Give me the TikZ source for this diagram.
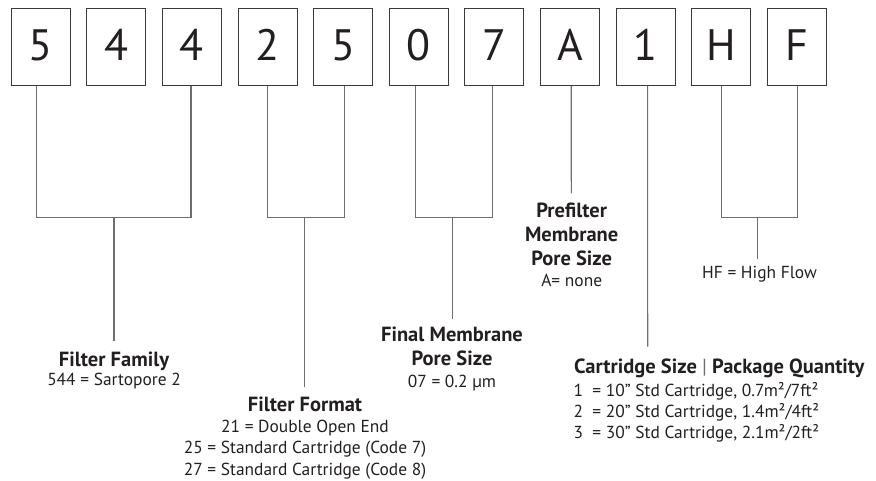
\documentclass[tikz,border=0pt]{standalone}
\usepackage{fontspec}
\setmainfont{PT Sans}
\usetikzlibrary{calc}
\definecolor{ink}{HTML}{231F20}
\definecolor{conncol}{HTML}{6D6E70}
\definecolor{boxcol}{HTML}{3A3A3A}
\begin{document}
\begin{tikzpicture}[x=1pt,y=-1pt,
  digit/.style={draw=boxcol, line width=0.9pt, minimum width=59pt, minimum height=77pt, inner sep=0pt, text depth=4pt, font=\fontsize{44}{44}\selectfont, text=ink},
  conn/.style={draw=conncol, line width=1.1pt},
  ttl/.style={font=\fontsize{20.5}{24}\selectfont\bfseries, text=ink, inner sep=0pt, anchor=base},
  val/.style={font=\fontsize{17.4}{21}\selectfont, text=ink, inner sep=0pt, anchor=base},
]
\useasboundingbox (0,0) rectangle (876,480);
% digit boxes
\node[digit] (b1) at (40.75,47) {5};
\node[digit] (b2) at (116.35,47) {4};
\node[digit] (b3) at (191.95,47) {4};
\node[digit] (b4) at (267.55,47) {2};
\node[digit] (b5) at (343.15,47) {5};
\node[digit] (b6) at (418.75,47) {0};
\node[digit] (b7) at (494.35,47) {7};
\node[digit] (b8) at (569.95,47) {A};
\node[digit] (b9) at (645.55,47) {1};
\node[digit] (b10) at (721.15,47) {H};
\node[digit] (b11) at (796.75,47) {F};
% junctions and free ends
\coordinate (m1) at (114,217.3);   \coordinate (e1) at (114,340.7);
\coordinate (m2) at (304.7,217.3); \coordinate (e2) at (304.7,387);
\coordinate (m3) at (452.7,217.3); \coordinate (e3) at (452.7,319);
\coordinate (e4) at (571.3,193.3);
\coordinate (e5) at (647.7,346.7);
\coordinate (m6) at (757.7,217.3); \coordinate (e6) at (757.7,259);
% connectors
\draw[conn] ($(b1.south)+(-4,0)$) |- (m1) -| ($(b3.south)+(-1,0)$);
\draw[conn] (m1) -- (e1);
\draw[conn] ($(b4.south)+(0,0)$) |- (m2) -| ($(b5.south)+(1.5,0)$);
\draw[conn] (m2) -- (e2);
\draw[conn] ($(b6.south)+(-3,0)$) |- (m3) -| ($(b7.south)+(-1.7,0)$);
\draw[conn] (m3) -- (e3);
\draw[conn] ($(b8.south)+(1.3,0)$) -- (e4);
\draw[conn] ($(b9.south)+(2.1,0)$) -- (e5);
\draw[conn] ($(b10.south)+(0,0)$) |- (m6) -| ($(b11.south)+(1,0)$);
\draw[conn] (m6) -- (e6);
% labels
\node[ttl] (ff1) at (114,366) {Filter Family};
\node[val] (ff2) at (114,385) {544 = Sartopore 2};
\node[ttl] (fo1) at (305,411.7) {Filter Format};
\node[val] (fo2) at (305,432) {21 = Double Open End};
\node[val] (fo3) at (305,453.5) {25 = Standard Cartridge (Code 7)};
\node[val] (fo4) at (305,475) {27 = Standard Cartridge (Code 8)};
\node[ttl] (fm1) at (452,341.7) {Final Membrane};
\node[ttl] (fm2) at (452,365.7) {Pore Size};
\node[val] (fm3) at (452,387.3) {07 = 0.2 µm};
\node[ttl] (pf1) at (571.7,217.3) {Prefilter};
\node[ttl] (pf2) at (571.7,241.7) {Membrane};
\node[ttl] (pf3) at (571.7,265) {Pore Size};
\node[val] (pf4) at (571.7,286.7) {A= none};
\node[val] (hf1) at (759.5,278.3) {HF = High Flow};
\node[ttl, anchor=base west] (cs1) at (574,373) {Cartridge Size {\mdseries\color{conncol}|} Package Quantity};
\node[val, anchor=base west] (cs2) at (573.5,396.7) {1~~= 10" Std Cartridge, 0.7m²/7ft²};
\node[val, anchor=base west] (cs3) at (573.5,417.5) {2~~= 20" Std Cartridge, 1.4m²/4ft²};
\node[val, anchor=base west] (cs4) at (573.5,438.3) {3~~= 30" Std Cartridge, 2.1m²/2ft²};
\end{tikzpicture}
\end{document}
